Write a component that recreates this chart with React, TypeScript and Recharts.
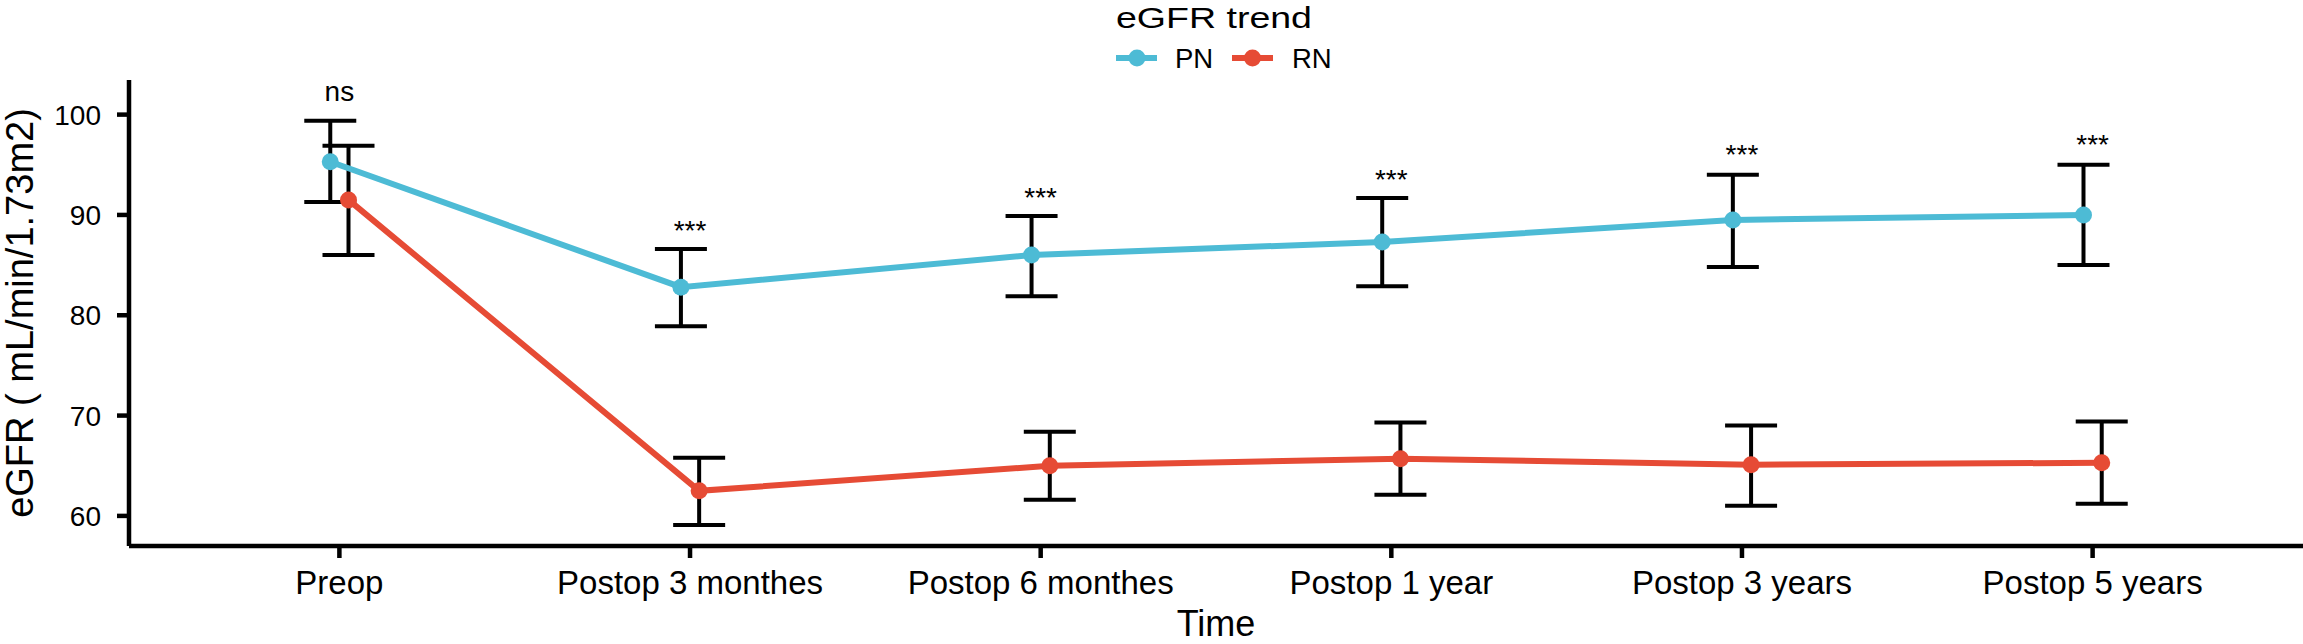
import React from 'react';
import { ComposedChart, Line, Scatter, XAxis, YAxis, ErrorBar, Legend, Label } from 'recharts';

const categories = ['Preop', 'Postop 3 monthes', 'Postop 6 monthes', 'Postop 1 year', 'Postop 3 years', 'Postop 5 years'];

const pnMean = [95.3, 82.8, 86.0, 87.3, 89.5, 90.0];
const pnUpper = [99.4, 86.6, 89.9, 91.7, 94.0, 95.0];
const pnLower = [91.3, 78.9, 81.9, 82.9, 84.8, 85.0];

const rnMean = [91.5, 62.5, 65.0, 65.7, 65.1, 65.3];
const rnUpper = [96.9, 65.8, 68.4, 69.3, 69.0, 69.4];
const rnLower = [86.0, 59.1, 61.6, 62.1, 61.0, 61.2];

const sigLabels = ['ns', '***', '***', '***', '***', '***'];
const sigY = [101.4, 87.5, 90.8, 92.6, 95.1, 96.1];

const yTicks = [60, 70, 80, 90, 100];

const PN_COLOR = '#4DBBD5';
const RN_COLOR = '#E64B35';
const FONT = '"Liberation Sans", Arial, sans-serif';
const DODGE = 0.026;

const pnData = categories.map((c, i) => ({
  x: i - DODGE,
  mean: pnMean[i],
  err: [pnMean[i] - pnLower[i], pnUpper[i] - pnMean[i]],
}));

const rnData = categories.map((c, i) => ({
  x: i + DODGE,
  mean: rnMean[i],
  err: [rnMean[i] - rnLower[i], rnUpper[i] - rnMean[i]],
}));

const sigData = categories.map((c, i) => ({ x: i, y: sigY[i], label: sigLabels[i] }));

const XTick = (props: any) => {
  const { x, y, payload } = props;
  return (
    <text x={x} y={y + 36} textAnchor="middle" fontSize={33} fontFamily={FONT} fill="#000">
      {categories[payload.value]}
    </text>
  );
};

const YTick = (props: any) => {
  const { x, y, payload } = props;
  return (
    <text x={x - 16} y={y} dy={10} textAnchor="end" fontSize={28} fontFamily={FONT} fill="#000">
      {payload.value}
    </text>
  );
};

const SigText = (props: any) => (
  <text x={props.cx} y={props.cy} textAnchor="middle" fontSize={28} fontFamily={FONT} fill="#000">
    {props.payload.label}
  </text>
);

const LegendBox = () => (
  <svg width={2303} height={76} style={{ display: 'block' }}>
    <text x={1214} y={28} textAnchor="middle" fontSize={30} textLength={196} lengthAdjust="spacingAndGlyphs" fontFamily={FONT} fill="#000">
      eGFR trend
    </text>
    <line x1={1116} x2={1157} y1={58} y2={58} stroke={PN_COLOR} strokeWidth={6} />
    <circle cx={1137} cy={58} r={8.5} fill={PN_COLOR} />
    <text x={1175} y={68} fontSize={27.5} fontFamily={FONT} fill="#000">PN</text>
    <line x1={1232} x2={1273} y1={58} y2={58} stroke={RN_COLOR} strokeWidth={6} />
    <circle cx={1252.5} cy={58} r={8.5} fill={RN_COLOR} />
    <text x={1292} y={68} fontSize={27.5} fontFamily={FONT} fill="#000">RN</text>
  </svg>
);

const XTitle = (props: any) => {
  const vb = props.viewBox;
  return (
    <text x={vb.x + vb.width / 2} y={636} textAnchor="middle" fontSize={36} fontFamily={FONT} fill="#000">
      Time
    </text>
  );
};

const YTitle = (props: any) => {
  const vb = props.viewBox;
  const cy = vb.y + vb.height / 2;
  return (
    <text transform={`translate(33, ${cy}) rotate(-90)`} textAnchor="middle" fontSize={38} fontFamily={FONT} fill="#000">
      eGFR ( mL/min/1.73m2)
    </text>
  );
};

export default function App() {
  return (
    <div style={{ position: 'absolute', left: 0, top: 0, background: '#fff' }}>
      <ComposedChart width={2303} height={644} margin={{ top: 4, right: 0, bottom: 0, left: 0 }}>
        <XAxis
          type="number"
          dataKey="x"
          domain={[-0.6, 5.6]}
          ticks={[0, 1, 2, 3, 4, 5]}
          interval={0}
          height={98}
          tickSize={12}
          tickMargin={0}
          axisLine={{ stroke: '#000', strokeWidth: 4.5 }}
          tickLine={{ stroke: '#000', strokeWidth: 4.5 }}
          tick={<XTick />}
        >
          <Label content={<XTitle />} />
        </XAxis>
        <YAxis
          type="number"
          domain={[57, 103.45]}
          ticks={yTicks}
          width={129}
          tickSize={12}
          tickMargin={0}
          allowDataOverflow
          axisLine={{ stroke: '#000', strokeWidth: 4.5 }}
          tickLine={{ stroke: '#000', strokeWidth: 4.5 }}
          tick={<YTick />}
        >
          <Label content={<YTitle />} />
        </YAxis>
        <Legend verticalAlign="top" wrapperStyle={{ top: 0, left: 0 }} content={<LegendBox />} />

        <Line data={pnData} dataKey="mean" stroke="none" dot={false} legendType="none" isAnimationActive={false}>
          <ErrorBar dataKey="err" direction="y" width={26} stroke="#000" strokeWidth={4} />
        </Line>
        <Line data={rnData} dataKey="mean" stroke="none" dot={false} legendType="none" isAnimationActive={false}>
          <ErrorBar dataKey="err" direction="y" width={26} stroke="#000" strokeWidth={4} />
        </Line>

        <Line
          data={pnData}
          dataKey="mean"
          name="PN"
          stroke={PN_COLOR}
          strokeWidth={6}
          dot={{ r: 8.5, fill: PN_COLOR, stroke: PN_COLOR, strokeWidth: 0 }}
          activeDot={false}
          isAnimationActive={false}
        />
        <Line
          data={rnData}
          dataKey="mean"
          name="RN"
          stroke={RN_COLOR}
          strokeWidth={6}
          dot={{ r: 8.5, fill: RN_COLOR, stroke: RN_COLOR, strokeWidth: 0 }}
          activeDot={false}
          isAnimationActive={false}
        />

        <Scatter data={sigData} dataKey="y" shape={<SigText />} legendType="none" isAnimationActive={false} />
      </ComposedChart>
    </div>
  );
}
